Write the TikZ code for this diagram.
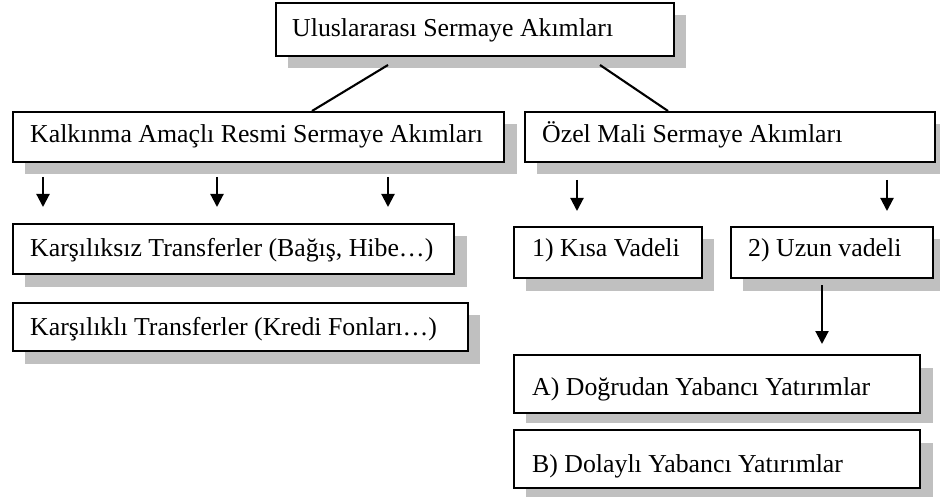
\documentclass[tikz,border=0pt]{standalone}
\usepackage{fontspec}
\setmainfont{Liberation Serif}
\usetikzlibrary{arrows.meta}
\definecolor{shadowgray}{HTML}{C0C0C0}
\tikzset{
  box/.style={draw=black, line width=2.2pt, fill=white, inner sep=0pt, anchor=north west},
  dropshadow/.style={fill=shadowgray},
  lbl/.style={anchor=base west, inner sep=0pt, font=\fontsize{25.8}{30}\selectfont},
  link/.style={line width=2.1pt},
  down/.style={line width=2.1pt, -{Triangle[width=13pt,length=13pt]}},
}
\begin{document}
\begin{tikzpicture}[x=1pt, y=-1pt]
\useasboundingbox (0,0) rectangle (940,497);

% drop shadows behind the boxes
\fill[dropshadow] (288,15) rectangle (686,68);
\fill[dropshadow] (25,124) rectangle (517,174);
\fill[dropshadow] (537,124) rectangle (940,174);
\fill[dropshadow] (25,236) rectangle (467,287);
\fill[dropshadow] (25,315) rectangle (480,364);
\fill[dropshadow] (526,239) rectangle (714,291);
\fill[dropshadow] (743,239) rectangle (940,291);
\fill[dropshadow] (526,368) rectangle (933,423);
\fill[dropshadow] (526,443) rectangle (933,497);

% branches from the top box
\coordinate (topL) at (388,65);
\coordinate (topR) at (600,65);
\coordinate (kalkIn) at (312,111);
\coordinate (ozelIn) at (668,111);
\draw[link] (topL) -- (kalkIn);
\draw[link] (topR) -- (ozelIn);

% boxes
\node[box, minimum width=398pt, minimum height=53pt] (top) at (275,2) {};
\node[box, minimum width=491pt, minimum height=50pt] (kalk) at (12,111) {};
\node[box, minimum width=410pt, minimum height=50pt] (ozel) at (524,111) {};
\node[box, minimum width=441pt, minimum height=50pt] (kars1) at (12,223) {};
\node[box, minimum width=455pt, minimum height=48pt] (kars2) at (12,302) {};
\node[box, minimum width=188pt, minimum height=51pt] (kisa) at (513,226) {};
\node[box, minimum width=202pt, minimum height=51pt] (uzun) at (730,226) {};
\node[box, minimum width=406pt, minimum height=58pt] (dogru) at (513,354) {};
\node[box, minimum width=406pt, minimum height=58pt] (dolay) at (513,429) {};

% labels
\node[lbl] (tTop) at (292,37) {Uluslararası Sermaye Akımları};
\node[lbl] (tKalk) at (30,143) {Kalkınma Amaçlı Resmi Sermaye Akımları};
\node[lbl] (tOzel) at (542,143) {Özel Mali Sermaye Akımları};
\node[lbl] (tKars1) at (30,257) {Karşılıksız Transferler (Bağış, Hibe…)};
\node[lbl] (tKars2) at (30,335) {Karşılıklı Transferler (Kredi Fonları…)};
\node[lbl] (tKisa) at (532,257) {1) Kısa Vadeli};
\node[lbl] (tUzun) at (748,257) {2) Uzun vadeli};
\node[lbl] (tDogru) at (532,395) {A) Doğrudan Yabancı Yatırımlar};
\node[lbl] (tDolay) at (532,472) {B) Dolaylı Yabancı Yatırımlar};

% short downward arrows
\coordinate (a1s) at (43,177);  \coordinate (a1e) at (43,207);
\coordinate (a2s) at (217,177); \coordinate (a2e) at (217,207);
\coordinate (a3s) at (388,177); \coordinate (a3e) at (388,207);
\coordinate (a4s) at (577,180); \coordinate (a4e) at (577,211);
\coordinate (a5s) at (887,180); \coordinate (a5e) at (887,211);
\coordinate (a6s) at (822,285); \coordinate (a6e) at (822,344);
\draw[down] (a1s) -- (a1e);
\draw[down] (a2s) -- (a2e);
\draw[down] (a3s) -- (a3e);
\draw[down] (a4s) -- (a4e);
\draw[down] (a5s) -- (a5e);
\draw[down] (a6s) -- (a6e);
\end{tikzpicture}
\end{document}
